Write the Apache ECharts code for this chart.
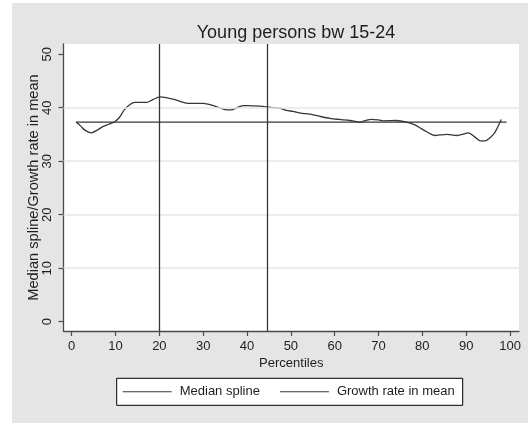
<!DOCTYPE html>
<html>
<head>
<meta charset="utf-8">
<script src="https://cdn.jsdelivr.net/npm/echarts@6/dist/echarts.min.js"></script>
<style>
  html, body { margin: 0; padding: 0; background: #ffffff; }
  #chart { width: 528px; height: 423px; }
</style>
</head>
<body>
<div id="chart"></div>
<script>
// Percentile positions and median-spline growth values
const splineX = [1, 2, 3, 4.5, 6, 7.2, 8.5, 9.9, 11, 12, 13.3, 14.4, 16, 17.1, 18.5, 20.1, 22, 23.6, 25, 26.6,
  28, 30, 32.3, 34, 35.4, 36.5, 38, 39.2, 41, 43, 45, 46, 47.5, 49, 50.5, 52.1, 54.4, 56.5, 58.9, 61,
  63.5, 65.8, 67, 68.4, 70, 71.1, 74.1, 76.4, 78.3, 79.5, 81, 82.9, 84, 85.6, 87.8, 89, 90.5, 92, 93.2, 94.3,
  95.3, 96.3, 96.9, 98];
const splineY = [37.3, 36.6, 35.8, 35.3, 35.9, 36.5, 36.9, 37.4, 38.3, 39.6, 40.6, 41.0, 41.0, 41.0, 41.5, 42.0, 41.8, 41.5, 41.1, 40.8,
  40.8, 40.8, 40.4, 39.9, 39.6, 39.6, 40.1, 40.4, 40.35, 40.3, 40.1, 40.0, 39.9, 39.5, 39.3, 39.0, 38.8, 38.4, 38.0, 37.8,
  37.6, 37.3, 37.6, 37.8, 37.7, 37.55, 37.6, 37.3, 36.8, 36.2, 35.5, 34.8, 34.9, 35.0, 34.8, 35.0, 35.3, 34.5, 33.8, 33.8,
  34.3, 35.1, 35.9, 37.8];

// Growth rate in the mean (constant across percentiles)
const meanX = [1, 99.2];
const meanY = [37.3, 37.3];

// Reference percentiles marked with vertical lines
const refPercentiles = [20, 44.6];

// Axis tick labels
const xTicks = [0, 10, 20, 30, 40, 50, 60, 70, 80, 90, 100];
const yTicks = [0, 10, 20, 30, 40, 50];
const yGrid = [10, 20, 30, 40];

const FONT = '"Liberation Sans", Arial, Helvetica, sans-serif';
const INK = '#1e1e1e';
const LINE = '#363636';
const AXIS = '#4a4a4a';

const chart = echarts.init(document.getElementById('chart'), null, { renderer: 'canvas' });

chart.setOption({
  animation: false,
  backgroundColor: '#ffffff',
  textStyle: { fontFamily: FONT, color: INK },
  graphic: [{
    type: 'rect',
    z: -10,
    silent: true,
    shape: { x: 12, y: 3, width: 516, height: 420 },
    style: { fill: '#e5e5e5' }
  }],
  title: {
    text: 'Young persons bw 15-24',
    left: 291,
    textAlign: 'center',
    top: 19,
    textStyle: { fontFamily: FONT, fontSize: 18, fontWeight: 'normal', color: INK }
  },
  grid: {
    left: 63.5, right: 9, top: 44, bottom: 92,
    show: true, backgroundColor: '#ffffff', borderWidth: 0
  },
  legend: {
    data: ['Median spline', 'Growth rate in mean'],
    left: 116.7,
    top: 378.3,
    icon: 'rect',
    itemWidth: 49,
    itemHeight: 1,
    itemGap: 20,
    padding: [7, 8, 7, 6],
    backgroundColor: '#ffffff',
    borderColor: '#000000',
    borderWidth: 1,
    textStyle: { fontFamily: FONT, fontSize: 13, color: INK, padding: [0, 0, 0, 3] }
  },
  xAxis: {
    type: 'value',
    min: -1.87,
    max: 102.05,
    name: 'Percentiles',
    nameLocation: 'middle',
    nameGap: 26,
    nameMoveOverlap: false,
    nameTextStyle: { fontFamily: FONT, fontSize: 13, color: INK },
    axisLine: { show: true, onZero: false, lineStyle: { color: AXIS, width: 1.3 } },
    axisTick: { show: true, length: 5, customValues: xTicks, lineStyle: { color: AXIS, width: 1.2 } },
    axisLabel: { customValues: xTicks, margin: 9, fontFamily: FONT, fontSize: 13, color: INK },
    splitLine: { show: false }
  },
  yAxis: {
    type: 'value',
    min: -1.74,
    max: 51.9,
    name: 'Median spline/Growth rate in mean',
    nameLocation: 'middle',
    nameGap: 22,
    nameMoveOverlap: false,
    nameTextStyle: { fontFamily: FONT, fontSize: 14.6, color: INK },
    axisLine: { show: true, onZero: false, lineStyle: { color: AXIS, width: 1.3 } },
    axisTick: { show: true, length: 5, customValues: yTicks, lineStyle: { color: AXIS, width: 1.2 } },
    axisLabel: { customValues: yTicks, rotate: 90, margin: 10, fontFamily: FONT, fontSize: 13, color: INK },
    splitLine: { show: false }
  },
  series: [
    {
      name: 'grid',
      type: 'line',
      data: [],
      silent: true,
      z: 1,
      markLine: {
        silent: true,
        symbol: 'none',
        label: { show: false },
        lineStyle: { color: '#e6e6e6', width: 1.5, type: 'solid' },
        data: yGrid.map(v => ({ yAxis: v }))
      }
    },
    {
      name: 'Median spline',
      type: 'line',
      z: 3,
      data: splineX.map((x, i) => [x, splineY[i]]),
      showSymbol: false,
      smooth: 0.3,
      color: LINE,
      lineStyle: { color: LINE, width: 1.3 }
    },
    {
      name: 'Growth rate in mean',
      type: 'line',
      z: 3,
      data: meanX.map((x, i) => [x, meanY[i]]),
      showSymbol: false,
      color: LINE,
      lineStyle: { color: LINE, width: 1.3 },
      markLine: {
        silent: true,
        symbol: 'none',
        label: { show: false },
        lineStyle: { color: LINE, width: 1.3, type: 'solid' },
        data: refPercentiles.map(v => ({ xAxis: v }))
      }
    }
  ]
});
</script>
</body>
</html>
